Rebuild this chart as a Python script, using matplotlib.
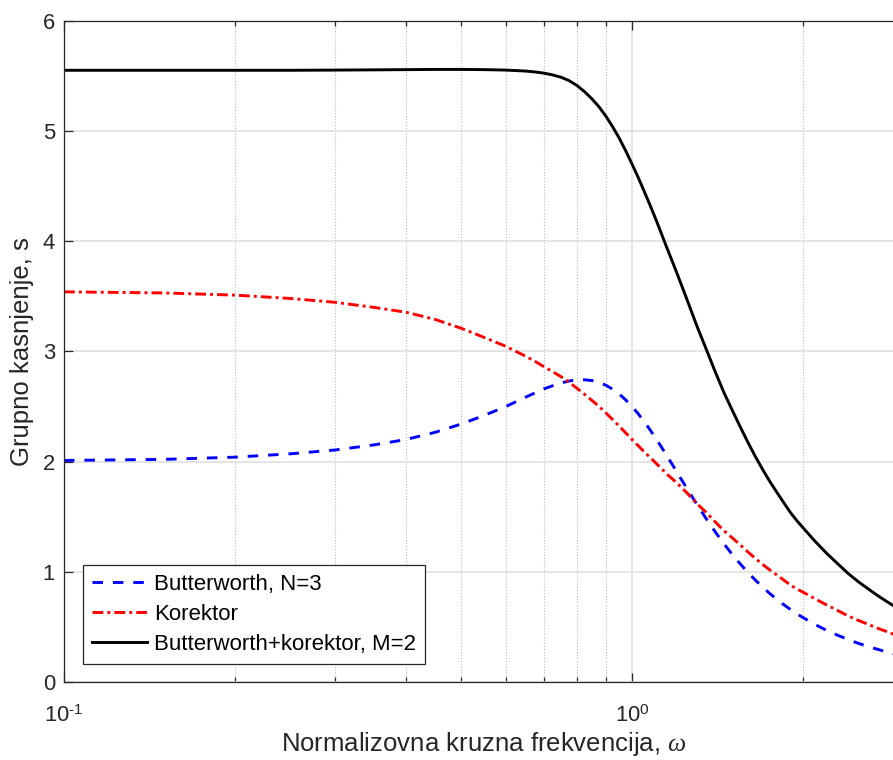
import matplotlib
matplotlib.use("Agg")
import matplotlib.pyplot as plt
from matplotlib.ticker import LogLocator, NullFormatter, FixedLocator, FixedFormatter

plt.rcParams['font.family'] = ['Liberation Sans', 'DejaVu Sans']
plt.rcParams['mathtext.fontset'] = 'custom'
plt.rcParams['mathtext.rm'] = 'Liberation Sans'
plt.rcParams['mathtext.it'] = 'Liberation Serif:italic'

# normalizovana frekvencija i grupna kasnjenja (s)
w = [0.1, 0.15, 0.2, 0.25, 0.3, 0.35, 0.4, 0.45, 0.5, 0.55, 0.6, 0.65, 0.675, 0.7,
     0.725, 0.75, 0.775, 0.8, 0.825, 0.85, 0.875, 0.9, 0.925, 0.95, 0.975, 1.0,
     1.025, 1.05, 1.075, 1.1, 1.125, 1.15, 1.175, 1.2, 1.25, 1.3, 1.35, 1.4, 1.45,
     1.5, 1.55, 1.6, 1.65, 1.7, 1.75, 1.8, 1.85, 1.9, 1.95, 2.0, 2.1, 2.2, 2.3,
     2.4, 2.5, 2.6, 2.7, 2.8, 2.9, 3.0]
butterworth = [2.01, 2.02, 2.04, 2.07, 2.105, 2.15, 2.20, 2.265, 2.34, 2.42, 2.50,
               2.585, 2.623, 2.66, 2.688, 2.713, 2.731, 2.741, 2.742, 2.735, 2.718,
               2.692, 2.656, 2.612, 2.559, 2.50, 2.435, 2.365, 2.291, 2.215, 2.137,
               2.059, 1.981, 1.903, 1.754, 1.614, 1.484, 1.365, 1.257, 1.16, 1.073,
               0.994, 0.923, 0.859, 0.801, 0.749, 0.702, 0.659, 0.62, 0.585, 0.522,
               0.469, 0.425, 0.386, 0.352, 0.323, 0.298, 0.275, 0.255, 0.237]
korektor = [3.54, 3.53, 3.51, 3.48, 3.445, 3.40, 3.355, 3.29, 3.21, 3.125, 3.045,
            2.955, 2.91, 2.86, 2.815, 2.77, 2.72, 2.665, 2.61, 2.555, 2.50, 2.44,
            2.38, 2.32, 2.26, 2.20, 2.145, 2.09, 2.04, 1.99, 1.94, 1.89, 1.847, 1.805,
            1.715, 1.62, 1.54, 1.455, 1.375, 1.31, 1.245, 1.18, 1.12, 1.065, 1.015,
            0.97, 0.925, 0.88, 0.845, 0.815, 0.755, 0.70, 0.65, 0.60, 0.56, 0.525,
            0.49, 0.46, 0.43, 0.40]
ukupno = [5.55, 5.55, 5.55, 5.55, 5.552, 5.554, 5.556, 5.558, 5.558, 5.556, 5.552,
          5.543, 5.535, 5.524, 5.508, 5.487, 5.456, 5.412, 5.356, 5.291, 5.218, 5.132,
          5.036, 4.932, 4.819, 4.70, 4.58, 4.455, 4.331, 4.205, 4.077, 3.949, 3.828,
          3.708, 3.469, 3.234, 3.024, 2.82, 2.632, 2.47, 2.318, 2.174, 2.043, 1.924,
          1.816, 1.719, 1.627, 1.539, 1.465, 1.40, 1.277, 1.169, 1.075, 0.986,
          0.912, 0.848, 0.788, 0.735, 0.685, 0.637]

axcol = '#262626'
fig = plt.figure(figsize=(8.93, 7.6), dpi=100)
ax = fig.add_axes([64/893, 1-682/760, (903-64)/893, (682-20.7)/760])

lw = 2.1
ax.plot(w, butterworth, color='#0000ff', lw=lw, linestyle=(0, (3.6, 3.4)),
        label='Butterworth, N=3')
ax.plot(w, korektor, color='#ff0000', lw=lw, linestyle=(0, (3.7, 1.4, 1.0, 1.4)),
        label='Korektor')
ax.plot(w, ukupno, color='black', lw=lw, label='Butterworth+korektor, M=2')

ax.set_xscale('log')
ax.set_xlim(0.1, 3.0)
ax.set_ylim(0, 6)
ax.yaxis.set_major_locator(FixedLocator([0, 1, 2, 3, 4, 5, 6]))
ax.xaxis.set_major_locator(FixedLocator([0.1, 1.0]))
ax.xaxis.set_major_formatter(FixedFormatter(['$10^{\u20101}$', '$10^{0}$']))
ax.xaxis.set_minor_locator(LogLocator(base=10, subs=range(2, 10), numticks=20))
ax.xaxis.set_minor_formatter(NullFormatter())

ax.set_axisbelow(True)
ax.grid(True, which='major', color='#dedede', lw=1.1, linestyle='-')
ax.grid(True, which='minor', axis='x', color='#b8b8b8', lw=0.8, linestyle=':')

for s in ax.spines.values():
    s.set_color(axcol)
    s.set_linewidth(0.9)
ax.tick_params(which='both', direction='in', top=True, right=True, colors=axcol,
               labelsize=15.8, width=0.9)
ax.tick_params(which='major', length=6.5)
ax.tick_params(which='minor', length=3.8)
ax.tick_params(axis='x', which='major', pad=17)
ax.tick_params(axis='y', pad=6.5)

ax.set_xlabel(r'Normalizovna kruzna frekvencija, $\omega$', fontsize=18.5,
              color=axcol, labelpad=2)
ax.set_ylabel('Grupno kasnjenje, s', fontsize=18.5, color=axcol, labelpad=6)

leg = ax.legend(loc='lower left', bbox_to_anchor=((83-64)/839, (682-664)/661.3),
                borderaxespad=0, fontsize=16, fancybox=False, framealpha=1,
                edgecolor=axcol, handlelength=2.5, handletextpad=0.3,
                labelspacing=0.41, borderpad=0.4)
leg.get_frame().set_linewidth(0.9)

fig.savefig('out.png', dpi=100)
